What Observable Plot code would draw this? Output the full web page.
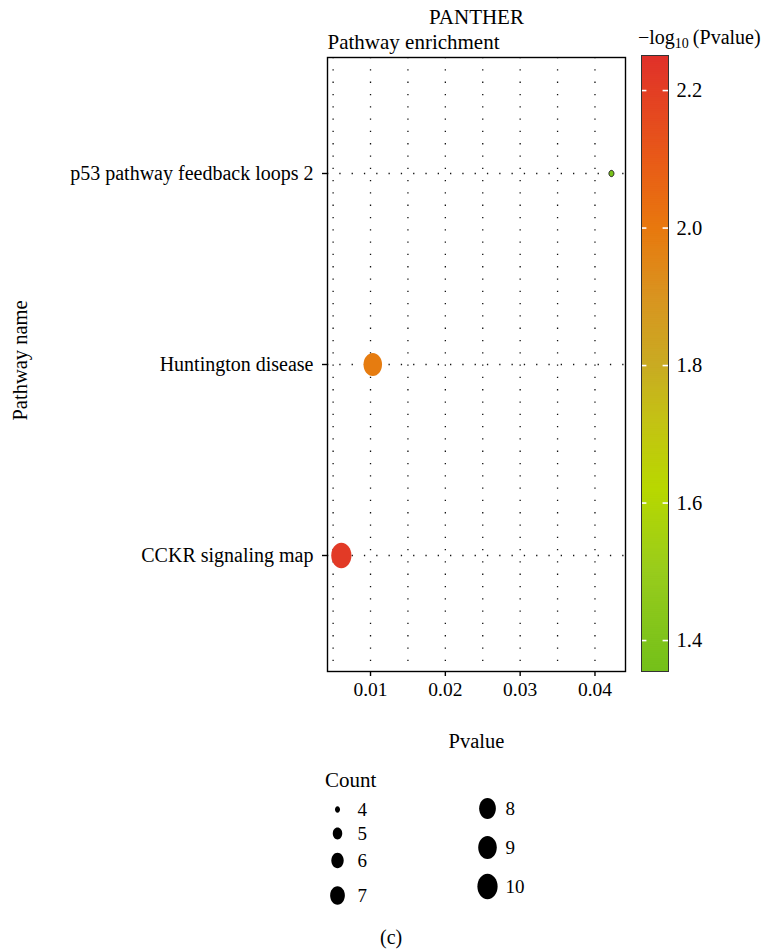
<!DOCTYPE html>
<html><head><meta charset="utf-8">
<script src="https://cdn.jsdelivr.net/npm/d3@7"></script>
<script src="https://cdn.jsdelivr.net/npm/@observablehq/plot@0.6"></script>
<style>
html,body{margin:0;padding:0;background:#fff;}
#chart{position:relative;width:768px;height:949px;font-family:"Liberation Serif",serif;color:#000;overflow:hidden;}
#chart > *{position:absolute;}
.lbl{line-height:1;white-space:nowrap;}
</style></head><body><div id="chart"></div>
<script>
// ---- data ----
const pathways = ["p53 pathway feedback loops 2", "Huntington disease", "CCKR signaling map"];
const pvalues = [0.0422, 0.0103, 0.0061];
const counts = [4, 9, 10];
const xTicks = [0.01, 0.02, 0.03, 0.04];
const gridTicks = [0.005, 0.01, 0.015, 0.02, 0.025, 0.03, 0.035, 0.04];
const colorTicks = [1.4, 1.6, 1.8, 2.0, 2.2];
const sizeLegendCounts = [4, 5, 6, 7, 8, 9, 10];

const rows = pathways.map((name, i) => ({name, p: pvalues[i], count: counts[i], logp: -Math.log10(pvalues[i])}));

// ---- shared scales ----
const FONT = "Liberation Serif";
const colorScale = {
  type: "linear",
  domain: [1.355, 1.5, 1.62, 1.72, 1.8, 1.9, 2.0, 2.1, 2.251],
  range: ["#74c01a", "#98cc1c", "#b8d800", "#c4c214", "#c9ab22", "#d99420", "#e8780e", "#e85a18", "#e0302a"],
  clamp: true
};
const rScale = {
  type: "linear", domain: [4, 10], range: [2.8, 11.3],
  interpolate: (a, b) => t => Math.sqrt(a * a + (b * b - a * a) * t)
};
// ellipse symbol (keys in the reference are slightly taller than wide)
const ellipse = {
  draw(ctx, size) {
    const r = Math.sqrt(size / Math.PI), rx = r * 0.894, ry = r * 1.118, k = 0.5523;
    ctx.moveTo(rx, 0);
    ctx.bezierCurveTo(rx, ry * k, rx * k, ry, 0, ry);
    ctx.bezierCurveTo(-rx * k, ry, -rx, ry * k, -rx, 0);
    ctx.bezierCurveTo(-rx, -ry * k, -rx * k, -ry, 0, -ry);
    ctx.bezierCurveTo(rx * k, -ry, rx, -ry * k, rx, 0);
    ctx.closePath();
  }
};

const chart = document.getElementById("chart");
const dotted = {stroke: "#111", strokeWidth: 1.3, strokeDasharray: "1.3,11"};
const minCount = d3.min(counts);

// ---- main plot ----
const main = Plot.plot({
  width: 640, height: 760,
  marginLeft: 327, marginRight: 15, marginTop: 57, marginBottom: 89,
  style: {fontFamily: FONT, fontSize: "20px", color: "#000", background: "transparent", overflow: "visible"},
  x: {domain: [0.00425, 0.04408]},
  y: {type: "point", domain: pathways, padding: 0.6},
  r: rScale,
  color: colorScale,
  marks: [
    Plot.ruleX(gridTicks, {x: d => d, ...dotted}),
    Plot.ruleY(pathways, {y: d => d, ...dotted}),
    Plot.frame({stroke: "#000", strokeWidth: 1.4}),
    Plot.axisY({tickSize: 5, tickPadding: 9, label: null, fontSize: 20, strokeWidth: 1.4}),
    Plot.axisX({ticks: xTicks, tickSize: 5, tickPadding: 6, tickFormat: d3.format(".2f"), label: null, fontSize: 19.5, strokeWidth: 1.4}),
    Plot.dot(rows, {x: "p", y: "name", r: "count", fill: "logp", symbol: ellipse}),
    Plot.dot(rows, {x: "p", y: "name", r: "count", stroke: "#222", strokeWidth: 1, fill: "none", symbol: ellipse, filter: d => d.count === minCount}),
    Plot.text(["PANTHER"], {frameAnchor: "top", lineAnchor: "middle", dy: -40, fontSize: 21}),
    Plot.text(["Pathway enrichment"], {frameAnchor: "top-left", lineAnchor: "middle", textAnchor: "start", dy: -15, fontSize: 21}),
    Plot.text(["Pvalue"], {frameAnchor: "bottom", lineAnchor: "middle", dy: 70, fontSize: 20.5}),
    Plot.text(["Pathway name"], {frameAnchor: "left", lineAnchor: "middle", textAnchor: "middle", dx: -307, dy: -4, rotate: -90, fontSize: 20.5})
  ]
});
main.style.left = "0px"; main.style.top = "0px";
chart.appendChild(main);

// ---- colour bar ----
const cbLo = colorScale.domain[0], cbHi = colorScale.domain[colorScale.domain.length - 1];
const cbStep = (cbHi - cbLo) / 300;
const cbStops = d3.range(cbLo, cbHi, cbStep);
const cbar = Plot.plot({
  width: 168, height: 760,
  marginLeft: 41, marginRight: 100, marginTop: 55, marginBottom: 89,
  style: {fontFamily: FONT, fontSize: "20px", color: "#000", background: "transparent", overflow: "visible"},
  x: {domain: [0, 1], axis: null},
  y: {domain: [cbLo, cbHi], axis: null},
  color: colorScale,
  marks: [
    Plot.rect(cbStops, {x1: 0, x2: 1, y1: d => d, y2: d => Math.min(cbHi, d + cbStep * 1.6), fill: d => d + cbStep / 2, inset: 0}),
    Plot.ruleY(colorTicks, {y: d => d, x1: 0, x2: 0.2, stroke: "#fff", strokeWidth: 1.6}),
    Plot.ruleY(colorTicks, {y: d => d, x1: 0.8, x2: 1, stroke: "#fff", strokeWidth: 1.6}),
    Plot.text(colorTicks, {y: d => d, x: 1, dx: 8, textAnchor: "start", text: d3.format(".1f"), fontSize: 20.5}),
    Plot.frame({stroke: "#333", strokeWidth: 1})
  ]
});
cbar.style.left = "600px"; cbar.style.top = "0px";
chart.appendChild(cbar);

const cbTitle = document.createElement("div");
cbTitle.className = "lbl";
cbTitle.style.fontSize = "20px";
cbTitle.innerHTML = "&minus;log<sub style=\"font-size:14px;vertical-align:-4px;line-height:0\">10</sub>&thinsp;(Pvalue)";
cbTitle.style.left = "638px"; cbTitle.style.top = "27px";
chart.appendChild(cbTitle);

// ---- size legend ----
const colX = [337, 487];
const rowY = [[49, 73, 100, 135], [48, 87, 126]];
const legendItems = sizeLegendCounts.map((c, i) => {
  const col = i < 4 ? 0 : 1, row = i < 4 ? i : i - 4;
  return {count: c, x: colX[col], y: rowY[col][row], lx: colX[col] + (col ? 18 : 20)};
});
const sizeLeg = Plot.plot({
  width: 768, height: 189,
  margin: 0,
  style: {fontFamily: FONT, fontSize: "19px", color: "#000", background: "transparent", overflow: "visible"},
  x: {type: "identity", axis: null}, y: {type: "identity", axis: null},
  r: rScale,
  marks: [
    Plot.dot(legendItems, {x: "x", y: "y", r: "count", fill: "#000", symbol: ellipse}),
    Plot.text(legendItems, {x: "lx", y: "y", text: d => String(d.count), textAnchor: "start", fontSize: 19})
  ]
});
sizeLeg.style.left = "0px"; sizeLeg.style.top = "760px";
chart.appendChild(sizeLeg);

const countTitle = document.createElement("div");
countTitle.className = "lbl"; countTitle.textContent = "Count";
countTitle.style.fontSize = "21px";
countTitle.style.left = "325px"; countTitle.style.top = "770px";
chart.appendChild(countTitle);

const cap = document.createElement("div");
cap.className = "lbl"; cap.textContent = "(c)";
cap.style.fontSize = "20px";
cap.style.left = "380px"; cap.style.top = "927px";
chart.appendChild(cap);
</script></body></html>
